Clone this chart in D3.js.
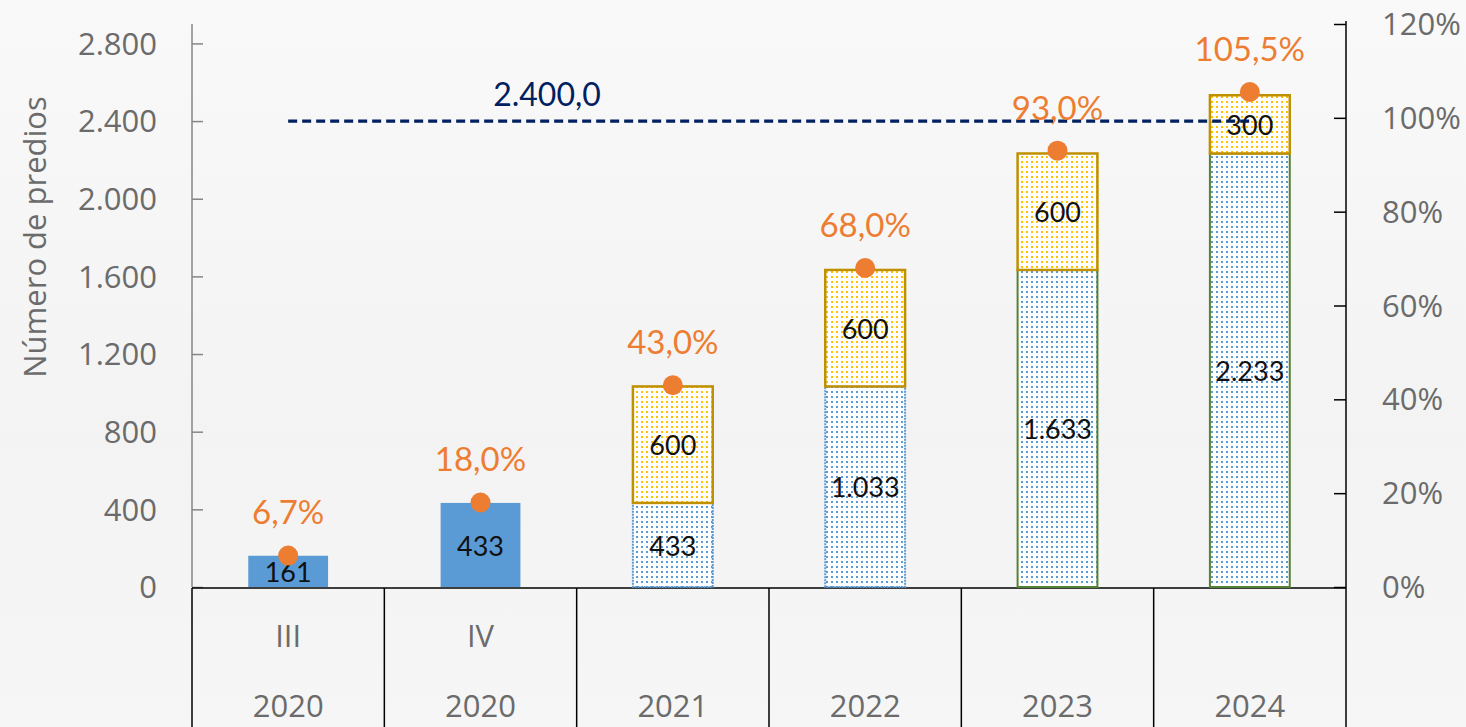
<!DOCTYPE html>
<html>
<head>
<meta charset="utf-8">
<script src="https://cdn.jsdelivr.net/npm/d3@7"></script>
<style>
  html, body { margin: 0; padding: 0; background: #f5f5f5; }
  svg { display: block; }
</style>
</head>
<body>
<svg id="chart" width="1466" height="727"></svg>
<script>
// ---- data ----
const periods = ["III", "IV", "", "", "", ""];
const years = ["2020", "2020", "2021", "2022", "2023", "2024"];
const baseValues = [161, 433, 433, 1033, 1633, 2233];
const addedValues = [0, 0, 600, 600, 600, 300];
const pctValues = [0.067, 0.18, 0.43, 0.68, 0.93, 1.055];
const goalValue = 2400;
const leftTicks = [0, 400, 800, 1200, 1600, 2000, 2400, 2800];
const rightTicks = [0, 0.2, 0.4, 0.6, 0.8, 1.0, 1.2];
const yTitle = "Número de predios";

// ---- setup ----
const W = 1466, H = 727;
const svg = d3.select("#chart");
const loc = d3.formatLocale({decimal: ",", thousands: ".", grouping: [3], currency: ["$", ""]});
const fmtInt = loc.format(",d");
const fmtGoal = loc.format(",.1f");
const fmtPct = loc.format(".1%");
const fmtPctAxis = loc.format(".0%");

const axisFont = "'Open Sans', sans-serif";
const lblFont = "Lato, 'Open Sans', sans-serif";
const gray = "#6b6b6b";

const pL = 192, pR = 1346, pB = 587, pT = 24;
const x = d3.scaleBand().domain(d3.range(periods.length)).range([pL, pR]).padding(0);
const y = d3.scaleLinear().domain([0, 2900]).range([pB, pT]);
const y2 = d3.scaleLinear().domain([0, 1.2]).range([pB, pT]);
const barW = x.bandwidth() * 0.415;
const cx = i => x(i) + x.bandwidth() / 2;

// background subtle
const defs = svg.append("defs");
const bg = defs.append("linearGradient").attr("id", "bg").attr("x1", 0).attr("y1", 0).attr("x2", 0).attr("y2", 1);
bg.append("stop").attr("offset", "0%").attr("stop-color", "#f9f9f9");
bg.append("stop").attr("offset", "60%").attr("stop-color", "#f3f3f3");
bg.append("stop").attr("offset", "100%").attr("stop-color", "#f6f6f6");
svg.append("rect").attr("width", W).attr("height", H).attr("fill", "url(#bg)");

function dotPattern(id, color) {
  const p = defs.append("pattern").attr("id", id).attr("patternUnits", "userSpaceOnUse")
    .attr("width", 5).attr("height", 5);
  p.append("rect").attr("width", 5).attr("height", 5).attr("fill", "#ffffff");
  p.append("rect").attr("x", 1).attr("y", 1).attr("width", 2).attr("height", 2).attr("fill", color);
}
dotPattern("dotBlue", "#5B9BD5");
dotPattern("dotYellow", "#FFC000");

// ---- left axis ----
const gL = svg.append("g").attr("transform", `translate(${pL},0)`);
gL.call(d3.axisRight(y).tickValues(leftTicks).tickSize(11).tickFormat(""));
gL.select(".domain").remove();
gL.selectAll(".tick line").attr("stroke", "#868686").attr("stroke-width", 1.5);
gL.append("line").attr("x1", 0).attr("x2", 0).attr("y1", pT).attr("y2", pB).attr("stroke", "#868686").attr("stroke-width", 1.5);
svg.append("g").selectAll("text").data(leftTicks).join("text")
  .attr("x", 157).attr("y", d => y(d)).attr("dy", "0.36em")
  .attr("text-anchor", "end").attr("fill", gray)
  .style("font-family", axisFont).style("font-size", "31px")
  .text(d => fmtInt(d));

svg.append("text").attr("transform", `translate(46,237) rotate(-90)`)
  .attr("text-anchor", "middle").attr("fill", gray)
  .style("font-family", axisFont).style("font-size", "31px")
  .text(yTitle);

// ---- right axis ----
const gR = svg.append("g").attr("transform", `translate(${pR},0)`);
gR.call(d3.axisLeft(y2).tickValues(rightTicks).tickSize(12).tickFormat(""));
gR.select(".domain").remove();
gR.selectAll(".tick line").attr("stroke", "#000").attr("stroke-width", 1.5);
gR.append("line").attr("x1", 0).attr("x2", 0).attr("y1", pT - 3).attr("y2", H).attr("stroke", "#000").attr("stroke-width", 1.5);
svg.append("g").selectAll("text").data(rightTicks).join("text")
  .attr("x", 1382).attr("y", d => y2(d)).attr("dy", "0.36em")
  .attr("text-anchor", "start").attr("fill", gray)
  .style("font-family", axisFont).style("font-size", "31px")
  .text(d => fmtPctAxis(d));

// ---- category table ----
svg.append("line").attr("x1", pL).attr("x2", pR).attr("y1", pB + 1).attr("y2", pB + 1)
  .attr("stroke", "#000").attr("stroke-width", 1.5);
svg.append("g").selectAll("line").data(d3.range(periods.length)).join("line")
  .attr("x1", i => x(i)).attr("x2", i => x(i)).attr("y1", pB + 1).attr("y2", H)
  .attr("stroke", "#000").attr("stroke-width", 1.5);
svg.append("g").selectAll("text").data(periods).join("text")
  .attr("x", (d, i) => cx(i)).attr("y", 636).attr("dy", "0.36em")
  .attr("text-anchor", "middle").attr("fill", gray)
  .style("font-family", axisFont).style("font-size", "31px")
  .text(d => d);
svg.append("g").selectAll("text").data(years).join("text")
  .attr("x", (d, i) => cx(i)).attr("y", 706).attr("dy", "0.36em")
  .attr("text-anchor", "middle").attr("fill", gray)
  .style("font-family", axisFont).style("font-size", "31px")
  .text(d => d);

// ---- bars ----
const gBars = svg.append("g");
baseValues.forEach((v, i) => {
  const solid = i < 2;
  const r = gBars.append("rect")
    .attr("x", cx(i) - barW / 2).attr("width", barW)
    .attr("y", y(v)).attr("height", y(0) - y(v));
  if (solid) {
    r.attr("fill", "#5B9BD5");
  } else {
    const green = i >= 4;
    r.attr("fill", "url(#dotBlue)")
      .attr("stroke", green ? "#548235" : "#5B9BD5")
      .attr("stroke-width", 2)
      .attr("stroke-dasharray", green ? null : "2,1");
  }
});
addedValues.forEach((v, i) => {
  if (!v) return;
  const b = baseValues[i];
  gBars.append("rect")
    .attr("x", cx(i) - barW / 2).attr("width", barW)
    .attr("y", y(b + v)).attr("height", y(b) - y(b + v))
    .attr("fill", "url(#dotYellow)")
    .attr("stroke", "#BF9000").attr("stroke-width", 2.5);
});

// bar labels
baseValues.forEach((v, i) => {
  svg.append("text").attr("x", cx(i)).attr("y", (y(0) + y(v)) / 2 + 1).attr("dy", "0.36em")
    .attr("text-anchor", "middle").attr("fill", "#111")
    .style("font-family", lblFont).style("font-size", "27px")
    .text(fmtInt(v));
});
addedValues.forEach((v, i) => {
  if (!v) return;
  const b = baseValues[i];
  svg.append("text").attr("x", cx(i)).attr("y", (y(b) + y(b + v)) / 2 + 1).attr("dy", "0.36em")
    .attr("text-anchor", "middle").attr("fill", "#111")
    .style("font-family", lblFont).style("font-size", "27px")
    .text(fmtInt(v));
});

// ---- goal line ----
svg.append("line")
  .attr("x1", cx(0)).attr("x2", cx(periods.length - 1))
  .attr("y1", y(goalValue)).attr("y2", y(goalValue))
  .attr("stroke", "#002060").attr("stroke-width", 3.2).attr("stroke-dasharray", "9,5");
svg.append("text").attr("x", 547).attr("y", y(goalValue) - 27).attr("dy", "0.36em")
  .attr("text-anchor", "middle").attr("fill", "#002060")
  .style("font-family", lblFont).style("font-size", "32px")
  .text(fmtGoal(goalValue));

// ---- percentage points ----
svg.append("g").selectAll("circle").data(pctValues).join("circle")
  .attr("cx", (d, i) => cx(i)).attr("cy", d => y2(d)).attr("r", 10)
  .attr("fill", "#ED7D31");
svg.append("g").selectAll("text").data(pctValues).join("text")
  .attr("x", (d, i) => cx(i)).attr("y", d => y2(d) - 43).attr("dy", "0.36em")
  .attr("text-anchor", "middle").attr("fill", "#ED7D31")
  .style("font-family", lblFont).style("font-size", "33px")
  .text(d => fmtPct(d));
</script>
</body>
</html>
